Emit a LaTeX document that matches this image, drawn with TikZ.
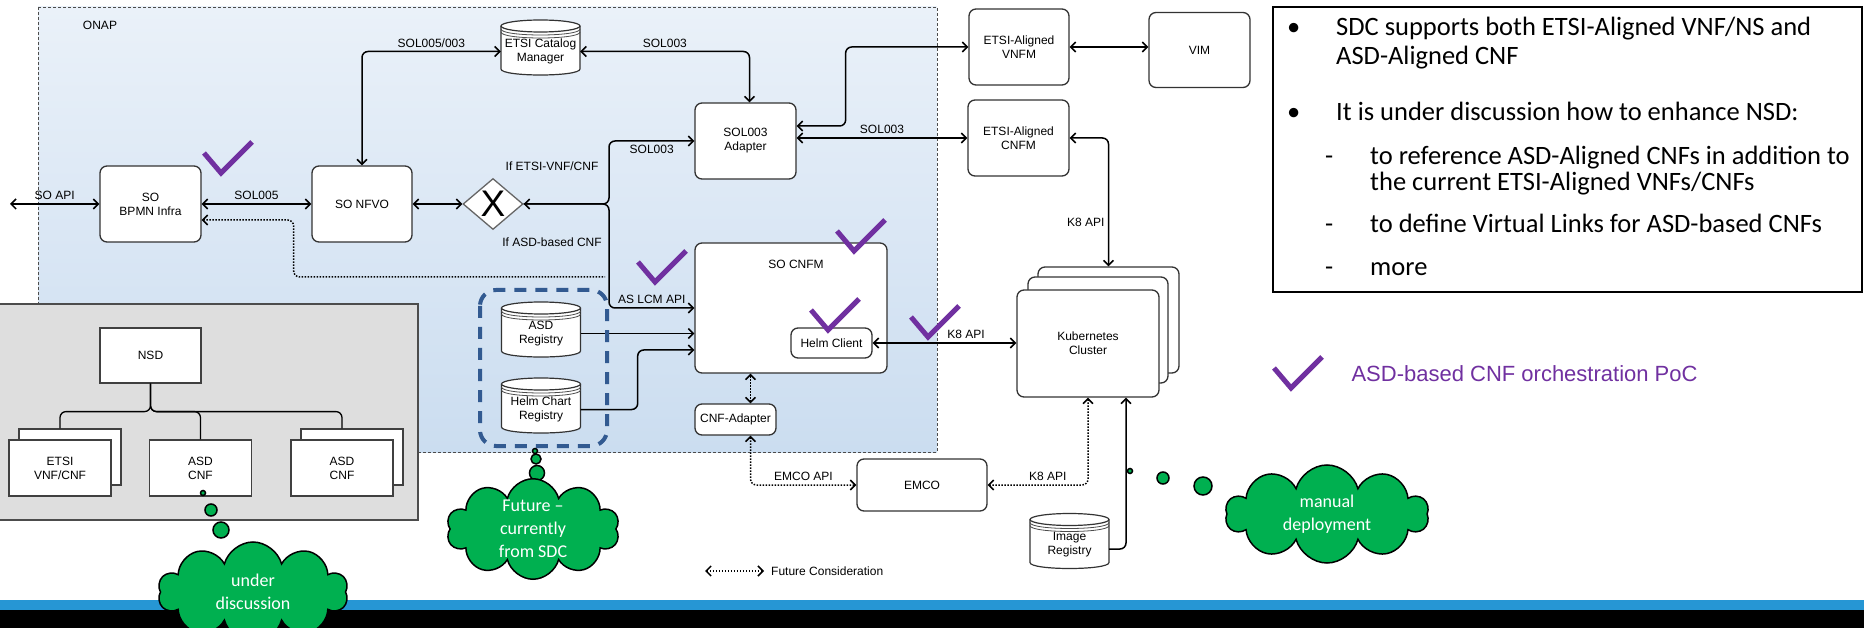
\documentclass[tikz,border=0pt]{standalone}
\usepackage{fontspec}
\setmainfont{Liberation Sans}
\newfontfamily\carl{Carlito}
\usetikzlibrary{arrows.meta,shapes.geometric,shapes.symbols}
\definecolor{onaptop}{RGB}{234,241,249}
\definecolor{onapbot}{RGB}{203,221,240}
\definecolor{grpblue}{RGB}{50,90,145}
\definecolor{cgreen}{RGB}{0,176,80}
\definecolor{pocpurple}{RGB}{112,48,160}
\definecolor{barblue}{RGB}{38,150,212}
\newcommand\drum[4]{%
\draw[drumline] ({#2-39.5},{#3-21.5}) -- ({#2-39.5},{#3+21.5}) .. controls ({#2-39.5},{#3+29.5}) and ({#2+39.5},{#3+29.5}) .. ({#2+39.5},{#3+21.5}) -- ({#2+39.5},{#3-21.5});
\draw[drumline] (#2,{#3-21.5}) ellipse (39.5 and 6);
\foreach \r in {3,6}\draw[black!70,line width=0.8pt] ({#2-39.5},{#3-21.5+\r}) .. controls ({#2-39.5},{#3-13.5+\r}) and ({#2+39.5},{#3-13.5+\r}) .. ({#2+39.5},{#3-21.5+\r});
\node[drum] (#1) at (#2,#3) {#4};}
\begin{document}
\begin{tikzpicture}[x=1pt,y=-1pt,font=\fontsize{12}{14}\selectfont,
>={Straight Barb[length=5pt,width=10pt]},
box/.style={draw=black!80,line width=1.3pt,rounded corners=7pt,fill=white,align=center,inner sep=1pt},
sq/.style={draw=black!75,line width=1.2pt,fill=white,align=center,inner sep=1pt,minimum width=102pt,minimum height=56pt},
drum/.style={align=center,inner sep=0pt,minimum width=79pt,minimum height=55pt,yshift=-4pt},
drumline/.style={draw=black!80,line width=1.2pt,fill=white},
con/.style={line width=1.5pt,rounded corners=6pt},
fut/.style={con,dash pattern=on 1.5pt off 1.5pt},
chk/.style={draw=pocpurple,line width=5pt},
bub/.style={draw=black,line width=1.5pt,fill=cgreen},
thought/.style={cloud,cloud puffs=10,cloud ignores aspect,draw=black,line width=1.5pt,fill=cgreen,text=white,align=center,font=\carl\fontsize{18}{23}\selectfont,inner sep=0pt},
note/.style={anchor=base west,inner sep=0pt,font=\carl\fontsize{26.5}{29}\selectfont}]
\useasboundingbox (0,0) rectangle (1864,628);
\shade[top color=onaptop,bottom color=onapbot] (38,7) rectangle (937,452);
\draw[black!70,line width=0.8pt,dash pattern=on 3pt off 2pt] (38,7) rectangle (937,452);
\node (onap) at (100,25) {ONAP};
\draw[fill=black!13,draw=black!70,line width=1.3pt] (-2,304) rectangle (418,520);
\fill[barblue] (0,600) rectangle (1864,610);
\fill[black] (0,610) rectangle (1864,628);

\node[box,minimum width=101pt,minimum height=76pt] (bpmn) at (150.5,204) {SO\\BPMN Infra};
\node[box,minimum width=100pt,minimum height=76pt] (nfvo) at (362,204) {SO NFVO};
\node[diamond,draw=black!60,fill=white,line width=1.3pt,minimum width=60pt,minimum height=51pt,inner sep=0pt,font=\fontsize{37}{37}\selectfont] (gw) at (493,204) {X};
\drum{cat}{540.5}{47.5}{ETSI Catalog\\Manager}
\node[box,minimum width=101pt,minimum height=76pt] (adapter) at (745.5,141) {SOL003\\Adapter};
\node[box,minimum width=100pt,minimum height=76pt] (vnfm) at (1019,47) {ETSI-Aligned\\VNFM};
\node[box,minimum width=101pt,minimum height=75pt] (vim) at (1199.5,50) {VIM};
\node[box,minimum width=101pt,minimum height=76pt] (cnfmetsi) at (1018.5,138) {ETSI-Aligned\\CNFM};
\node[box,minimum width=192pt,minimum height=130pt] (cnfm) at (791,308) {};
\node (cnfmtxt) at (796,264) {SO CNFM};
\node[box,minimum width=81pt,minimum height=30pt] (helm) at (831.5,343) {Helm Client};
\node[box,minimum width=81pt,minimum height=31pt] (cnfad) at (735.5,419.5) {CNF-Adapter};
\node[box,minimum width=130pt,minimum height=52pt] (emco) at (922,485) {EMCO};
\node[box,minimum width=141pt,minimum height=106pt] (k8back) at (1108.5,320) {};
\node[box,minimum width=140pt,minimum height=106pt] (k8mid) at (1098,330) {};
\node[box,minimum width=142pt,minimum height=107pt] (k8s) at (1088,343.5) {Kubernetes\\Cluster};
\drum{asdreg}{541}{329.5}{ASD\\Registry}
\drum{helmreg}{541}{405.5}{Helm Chart\\Registry}
\drum{imgreg}{1069.5}{541}{Image\\Registry}
\node (ifetsi) at (552,166) {If ETSI-VNF/CNF};
\node (ifasd) at (552,242) {If ASD-based CNF};

\coordinate (soapi) at (10,204);
\coordinate (fork) at (609,204);
\coordinate (dotend) at (605,277);
\draw[con,<->] (soapi) -- (bpmn) node[midway,above]{SO API};
\draw[con,<->] (bpmn) -- (nfvo) node[midway,above]{SOL005};
\draw[con,<->] (nfvo) -- (gw);
\draw[con,<->] (nfvo.north) |- (cat.west) node[pos=.75,above]{SOL005/003};
\draw[con,<->] (cat.east) -| ([xshift=4pt]adapter.north) node[pos=.25,above]{SOL003};
\draw[con,<->] (gw.east) -- (fork) |- (adapter.west) node[pos=.75,below]{SOL003};
\draw[con,->] (gw.east) -- (fork) |- (cnfm.west) node[pos=.75,above]{AS LCM API};
\draw[con,<->] ([yshift=15pt]adapter.east) -- ++(49,0) |- (vnfm.west);
\draw[con,<->] ([yshift=3pt]adapter.east) -- ([yshift=3pt]adapter.east -| cnfmetsi.west) node[midway,above]{SOL003};
\draw[con,<->] (vnfm) -- (vnfm -| vim.west);
\draw[con,<->] (cnfmetsi.east) -| (k8back.north) node[pos=.83,left]{K8 API};
\draw[con,<->] (helm.east) -- (helm.east -| k8s.west) node[pos=.65,above]{K8 API};
\draw[fut,<->] ([xshift=15pt]cnfad.north) -- ([xshift=15pt]cnfad.north |- cnfm.south);
\draw[fut,<->] ([xshift=15pt]cnfad.south) |- (emco.west) node[pos=.75,above]{EMCO API};
\draw[fut,<->] (k8s.south) |- (emco.east) node[pos=.7,above]{K8 API};
\draw[con,->] ([yshift=-4pt]imgreg.east) -| ([xshift=38pt]k8s.south);
\draw[fut,<-] ([yshift=-16pt]bpmn.east) -- ++(92,0) |- (dotend);
\draw[con,->] (asdreg.east) -- (asdreg.east -| cnfm.west);
\draw[con,->] (helmreg.east) -- ++(57,0) |- ([yshift=-42pt]cnfm.west);
\draw[draw=grpblue,line width=4pt,dash pattern=on 12pt off 9pt,rounded corners=16pt] (480,290) rectangle (607,446);

\node[sq,minimum width=101pt,minimum height=55pt] (nsd) at (150.5,355.5) {NSD};
\node[sq] (etsib) at (70,457) {};
\node[sq] (etsif) at (60,468) {ETSI\\VNF/CNF};
\node[sq] (asdm) at (200.5,468) {ASD\\CNF};
\node[sq] (asdb) at (352,457) {};
\node[sq] (asdf) at (342,468) {ASD\\CNF};
\foreach \b/\t in {etsif/etsib,asdm/asdm,asdf/asdb}
  \draw[con,line width=1.3pt] (nsd.south) -- ++(0,28) -| (\b.north |- \t.north);

\foreach \p/\r in {{(203,493)}/2.5,{(211,510)}/6,{(221,530)}/8,{(535,451)}/2.5,{(536,459)}/5,{(537,473)}/7.5,{(1130,471)}/2.5,{(1163,478)}/6,{(1203,486)}/9}
  \draw[bub] \p circle (\r);
\node[thought,minimum width=190pt,minimum height=100pt] (undisc) at (253,592) {under\\discussion};
\node[thought,minimum width=173pt,minimum height=98pt] (future) at (533,529) {Future –\\currently\\from SDC};
\node[thought,minimum width=203pt,minimum height=98pt] (manual) at (1327,514) {manual\\deployment};

\foreach \p in {(221,173),(655,282),(854,251),(828,330),(928,337),(1291,388)}
  \draw[chk] \p ++(-17,-20) -- ++(17,20) -- ++(31,-31);
\node[anchor=west,text=pocpurple,font=\fontsize{22}{26}\selectfont] (poc) at (1348,374) {ASD-based CNF orchestration PoC};
\coordinate (legl) at (705,571);
\node[anchor=west,inner sep=0pt] (futlbl) at (771,571) {Future Consideration};
\draw[fut,<->] (legl) -- ([xshift=-7pt]futlbl.west);

\draw[line width=1.5pt,fill=white] (1273,7) rectangle (1862,292);
\foreach \y in {36,121} \node[note] (bul\y) at (1287,\y) {•};
\foreach \y in {165,233,276} \node[note] (dsh\y) at (1325,\y) {-};
\node[note] (n1) at (1336,36) {SDC supports both ETSI-Aligned VNF/NS and};
\node[note] (n2) at (1336,65) {ASD-Aligned CNF};
\node[note] (n3) at (1336,121) {It is under discussion how to enhance NSD:};
\node[note] (n4) at (1370,165) {to reference ASD-Aligned CNFs in addition to};
\node[note] (n5) at (1370,191) {the current ETSI-Aligned VNFs/CNFs};
\node[note] (n6) at (1370,233) {to define Virtual Links for ASD-based CNFs};
\node[note] (n7) at (1370,276) {more};
\end{tikzpicture}
\end{document}
